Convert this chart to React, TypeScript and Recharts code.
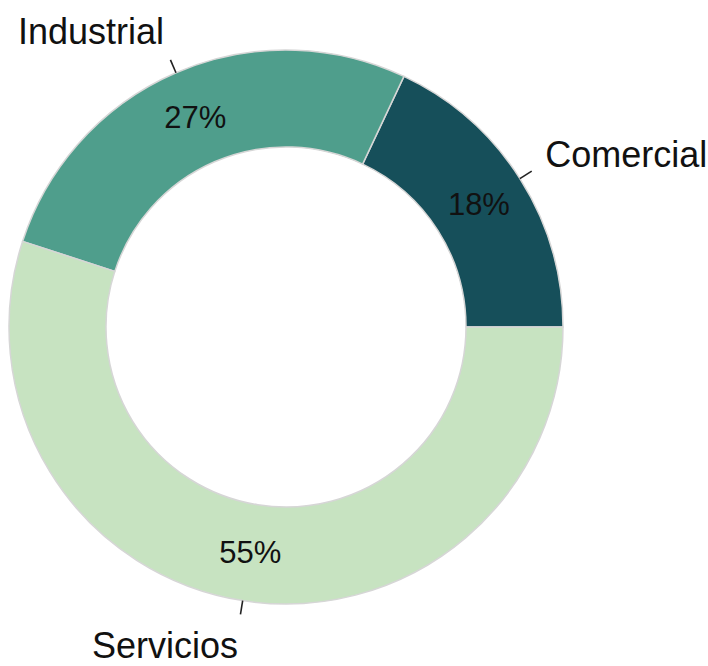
import React from "react";
import { PieChart, Pie, Cell } from "recharts";

const categories = ["Comercial", "Industrial", "Servicios"];
const shares = [18, 27, 55];
const colors = ["#164f5a", "#4f9e8c", "#c7e3c1"];

const data = categories.map((name, i) => ({ name, value: shares[i] }));

const RADIAN = Math.PI / 180;
const FONT = '"Liberation Sans", Arial, sans-serif';

const renderLabel = (props: any) => {
  const { cx, cy, midAngle, innerRadius, outerRadius, value, name, index } = props;
  const cos = Math.cos(-midAngle * RADIAN);
  const sin = Math.sin(-midAngle * RADIAN);
  const mr = (innerRadius + outerRadius) / 2;
  const px = cx + mr * cos;
  const py = cy + mr * sin;
  const t1 = outerRadius;
  const t2 = outerRadius + 14;
  const lx = cx + (outerRadius + 30) * cos;
  const ly = cy + (outerRadius + 45) * sin;
  return (
    <g key={`lbl-${index}`}>
      <text
        x={px}
        y={py}
        textAnchor="middle"
        dominantBaseline="central"
        fontSize={31}
        fontFamily={FONT}
        fill="#111"
      >
        {`${value}%`}
      </text>
      <line
        x1={cx + t1 * cos}
        y1={cy + t1 * sin}
        x2={cx + t2 * cos}
        y2={cy + t2 * sin}
        stroke="#222"
        strokeWidth={1.6}
      />
      <text
        x={lx}
        y={ly}
        textAnchor={cos >= 0 ? "start" : "end"}
        dominantBaseline="central"
        fontSize={36}
        fontFamily={FONT}
        fill="#111"
      >
        {name}
      </text>
    </g>
  );
};

export default function App() {
  return (
    <div style={{ position: "absolute", left: 0, top: 0, width: 708, height: 666, background: "#fff" }}>
      <PieChart width={708} height={666} margin={{ top: 0, right: 0, bottom: 0, left: 0 }}>
        <Pie
          data={data}
          dataKey="value"
          nameKey="name"
          cx={286}
          cy={327}
          innerRadius={180}
          outerRadius={277}
          startAngle={0}
          endAngle={360}
          stroke="#d6d6d6"
          strokeWidth={1.5}
          label={renderLabel}
          labelLine={false}
          isAnimationActive={false}
        >
          {data.map((d, i) => (
            <Cell key={d.name} fill={colors[i]} />
          ))}
        </Pie>
      </PieChart>
    </div>
  );
}
